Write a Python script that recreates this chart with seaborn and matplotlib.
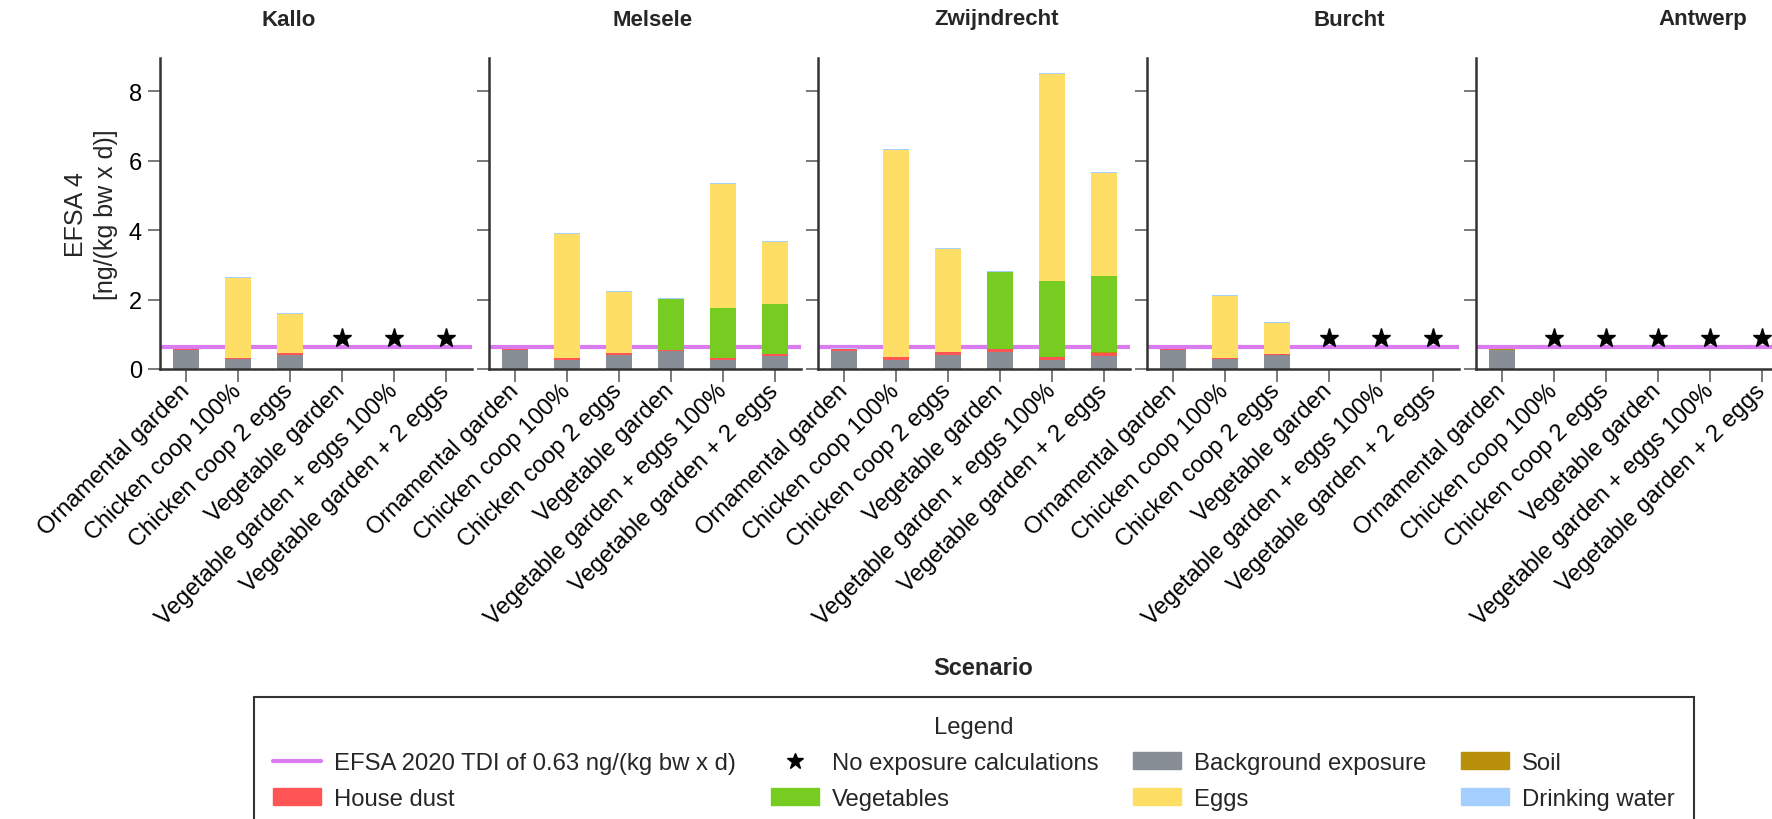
#!/usr/bin/env python3
# Stacked exposure bars per location and scenario, EFSA 4

import numpy as np
import pandas as pd
import seaborn as sns
import matplotlib.pyplot as plt
from matplotlib.lines import Line2D
from matplotlib.patches import Patch

sns.set_theme(style="ticks")
plt.rcParams['font.family'] = ['Liberation Sans', 'DejaVu Sans']

nan = np.nan

LOCATIONS = ["Kallo", "Melsele", "Zwijndrecht", "Burcht", "Antwerp"]
SCENARIOS = [
    "Ornamental garden", "Chicken coop 100%", "Chicken coop 2 eggs",
    "Vegetable garden", "Vegetable garden + eggs 100%", "Vegetable garden + 2 eggs",
]
COMPONENTS = ["Background exposure", "House dust", "Soil", "Vegetables", "Eggs", "Drinking water"]

# one row per location, one value per scenario (nan = no exposure calculation)
BACKGROUND = [
    [0.55, 0.28, 0.41, nan, nan, nan],
    [0.55, 0.27, 0.40, 0.51, 0.26, 0.38],
    [0.53, 0.27, 0.40, 0.50, 0.26, 0.38],
    [0.55, 0.29, 0.41, nan, nan, nan],
    [0.55, nan, nan, nan, nan, nan],
]
HOUSE_DUST = [
    [0.02, 0.03, 0.04, nan, nan, nan],
    [0.02, 0.05, 0.05, 0.04, 0.05, 0.05],
    [0.05, 0.08, 0.08, 0.08, 0.08, 0.09],
    [0.02, 0.03, 0.03, nan, nan, nan],
    [0.01, nan, nan, nan, nan, nan],
]
SOIL = [
    [0.005, 0.005, 0.005, nan, nan, nan],
    [0.005, 0.005, 0.005, 0.005, 0.005, 0.005],
    [0.005, 0.005, 0.005, 0.005, 0.005, 0.005],
    [0.005, 0.005, 0.005, nan, nan, nan],
    [0.005, nan, nan, nan, nan, nan],
]
VEGETABLES = [
    [0.0, 0.0, 0.0, nan, nan, nan],
    [0.0, 0.0, 0.0, 1.45, 1.44, 1.44],
    [0.0, 0.0, 0.0, 2.20, 2.18, 2.19],
    [0.0, 0.0, 0.0, nan, nan, nan],
    [0.0, nan, nan, nan, nan, nan],
]
EGGS = [
    [0.0, 2.31, 1.12, nan, nan, nan],
    [0.0, 3.55, 1.76, 0.0, 3.56, 1.77],
    [0.0, 5.95, 2.97, 0.0, 5.97, 2.97],
    [0.0, 1.78, 0.88, nan, nan, nan],
    [0.0, nan, nan, nan, nan, nan],
]
DRINKING_WATER = [
    [0.01, 0.03, 0.03, nan, nan, nan],
    [0.01, 0.04, 0.03, 0.04, 0.04, 0.03],
    [0.02, 0.04, 0.03, 0.04, 0.03, 0.03],
    [0.01, 0.03, 0.03, nan, nan, nan],
    [0.01, nan, nan, nan, nan, nan],
]
TDI = 0.63

COLORS = {
    "Background exposure": "#878E95",
    "House dust": "#FF5555",
    "Soil": "#B8900A",
    "Vegetables": "#77CC22",
    "Eggs": "#FFDE66",
    "Drinking water": "#A5CFFF",
}
TDI_COLOR = "#DA7CF0"
STAR_Y = 0.88

# long table: location, scenario, component, value
series = [BACKGROUND, HOUSE_DUST, SOIL, VEGETABLES, EGGS, DRINKING_WATER]
rows = []
for comp, arr in zip(COMPONENTS, series):
    for li, loc in enumerate(LOCATIONS):
        for si, scen in enumerate(SCENARIOS):
            rows.append((loc, scen, comp, arr[li][si]))
df = pd.DataFrame(rows, columns=["location", "scenario", "component", "value"])
df["component"] = pd.Categorical(df["component"], COMPONENTS, ordered=True)
df = df.sort_values(["location", "scenario", "component"])
df["top"] = df.groupby(["location", "scenario"], observed=True)["value"].cumsum()

W, H = 1772, 820
fig = plt.figure(figsize=(W / 100, H / 100), dpi=100)

FS = 17
ax_left, ax_w, ax_step = 160, 312, 329
ax_bottom, ax_top = 370, 59
title_x = [289, 653, 997, 1349, 1703]

axes = []
for i, loc in enumerate(LOCATIONS):
    ax = fig.add_axes([(ax_left + i * ax_step) / W, 1 - ax_bottom / H,
                       ax_w / W, (ax_bottom - ax_top) / H])
    axes.append(ax)
    sub = df[df["location"] == loc]

    ax.axhline(TDI, color=TDI_COLOR, lw=3, zorder=0)
    # draw cumulative tops from the top layer down so lower layers overlay
    for comp in COMPONENTS[::-1]:
        part = sub[sub["component"] == comp].copy()
        part["top"] = part["top"].fillna(0)
        sns.barplot(data=part, x="scenario", y="top", order=SCENARIOS,
                    color=COLORS[comp], saturation=1, width=0.5,
                    errorbar=None, ax=ax, zorder=2, linewidth=0,
                    edgecolor="none")

    missing = sub[(sub["component"] == COMPONENTS[0]) & sub["value"].isna()]
    pos = [SCENARIOS.index(s) for s in missing["scenario"]]
    ax.plot(pos, [STAR_Y] * len(pos), ls="none", marker="*", ms=14,
            color="black", zorder=4)

    ax.set_xlim(-0.5, 5.5)
    ax.set_ylim(0, 8.95)
    ax.set_yticks([0, 2, 4, 6, 8])
    ax.set_xlabel("")
    ax.set_ylabel("")
    sns.despine(ax=ax)
    for s in ("left", "bottom"):
        ax.spines[s].set_linewidth(1.8)
        ax.spines[s].set_color("#333333")
    ax.tick_params(axis="both", length=9, width=1.1, color="#555555",
                   labelsize=FS, labelcolor="black", pad=4)
    ax.set_xticks(range(len(SCENARIOS)))
    ax.set_xticklabels(SCENARIOS, rotation=45, ha="right", va="center",
                       rotation_mode="anchor")
    if i > 0:
        ax.tick_params(axis="y", labelleft=False)
    fig.text(title_x[i] / W, 1 - 20 / H, loc, ha="center", va="center",
             fontsize=16, fontweight="bold")

axes[0].set_ylabel("EFSA 4\n[ng/(kg bw x d)]", fontsize=18, labelpad=8,
                   linespacing=1.3)

fig.text(983 / W, 1 - 669 / H, "Scenario", ha="center", va="center",
         fontsize=FS, fontweight="bold")

handles = [
    Line2D([], [], color=TDI_COLOR, lw=3),
    Patch(color=COLORS["House dust"]),
    Line2D([], [], ls="none", marker="*", ms=12, color="black"),
    Patch(color=COLORS["Vegetables"]),
    Patch(color=COLORS["Background exposure"]),
    Patch(color=COLORS["Eggs"]),
    Patch(color=COLORS["Soil"]),
    Patch(color=COLORS["Drinking water"]),
]
labels = [
    "EFSA 2020 TDI of 0.63 ng/(kg bw x d)", "House dust",
    "No exposure calculations", "Vegetables",
    "Background exposure", "Eggs",
    "Soil", "Drinking water",
]
leg = fig.legend(handles, labels, ncol=4, loc="upper center",
                 bbox_to_anchor=(974 / W, 1 - 698 / H), title="Legend",
                 fontsize=17.2, title_fontsize=17.2, frameon=True,
                 fancybox=False, framealpha=1, edgecolor="#333333",
                 handlelength=2.0, handleheight=0.75, handletextpad=0.55,
                 columnspacing=1.45, labelspacing=0.58, borderpad=0.8,
                 borderaxespad=0)
leg.get_frame().set_linewidth(1.5)

fig.savefig("out.png", dpi=100)
